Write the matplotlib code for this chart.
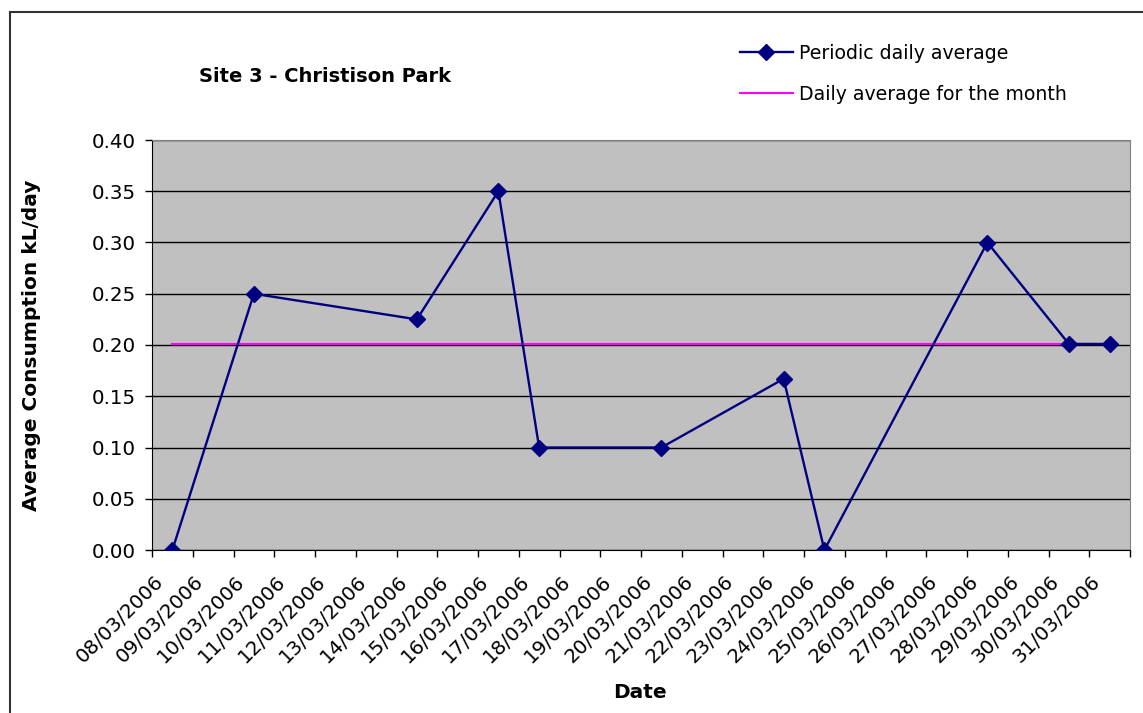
'''
Site 3 - Christison Park の平均消費量グラフ
'''

import matplotlib
matplotlib.use('Agg')
import matplotlib.pyplot as plt
import matplotlib.transforms as mtrans
from matplotlib.patches import Rectangle
import numpy as np

dates = ['08/03/2006', '09/03/2006', '10/03/2006', '11/03/2006', '12/03/2006',
         '13/03/2006', '14/03/2006', '15/03/2006', '16/03/2006', '17/03/2006',
         '18/03/2006', '19/03/2006', '20/03/2006', '21/03/2006', '22/03/2006',
         '23/03/2006', '24/03/2006', '25/03/2006', '26/03/2006', '27/03/2006',
         '28/03/2006', '29/03/2006', '30/03/2006', '31/03/2006']

# 読み取りできた日だけ値がある（残りは欠測）
periodic = [0.0, None, 0.25, None, None, None, 0.225, None, 0.35, 0.10,
            None, None, 0.10, None, None, 0.167, 0.0, None, None, None,
            0.30, None, 0.201, 0.201]
month_avg = [0.201] * 24

plt.rcParams['font.family'] = ['DejaVu Sans']

fig = plt.figure(figsize=(11.43, 7.13), dpi=100)
ax = fig.add_axes([152/1143, 1-550/713, (1130-152)/1143, (550-140)/713])

# 外枠
fig.patches.append(Rectangle((10/1143, -0.1), 1.2, 1-12/713+0.1, transform=fig.transFigure,
                             fill=False, edgecolor='#333333', linewidth=1.5))

x = np.arange(len(dates))
px = [i for i, v in enumerate(periodic) if v is not None]
py = [v for v in periodic if v is not None]

ax.set_facecolor('#C0C0C0')
ax.plot(x, month_avg, color='#FF00FF', linewidth=1.5, label='Daily average for the month', zorder=3)
ax.plot(px, py, color='#000080', linewidth=1.7, marker='D', markersize=8.5,
        label='Periodic daily average', zorder=4)

ax.set_xlim(-0.5, len(dates)-0.5)
ax.set_ylim(0, 0.4)
ax.set_yticks(np.arange(0, 0.401, 0.05))
ax.set_yticklabels(['%.2f' % v for v in np.arange(0, 0.401, 0.05)], fontsize=14.3)
ax.yaxis.grid(True, color='black', linewidth=1)
ax.set_axisbelow(True)

ax.set_xticks(np.arange(-0.5, len(dates), 1.0))
ax.set_xticklabels([])
ax.set_xticks(x, minor=True)
ax.set_xticklabels(dates, minor=True, rotation=45, ha='right', va='top',
                   rotation_mode='anchor', fontsize=14.3)
ax.tick_params(axis='x', which='minor', length=0, pad=0)
ax.tick_params(axis='both', which='major', length=5, width=1, color='black')
ax.tick_params(axis='y', which='major', pad=6.5)

off = mtrans.ScaledTranslation(-0.19, -0.22, fig.dpi_scale_trans)
for lab in ax.get_xticklabels(minor=True):
    lab.set_transform(lab.get_transform() + off)

for s in ['top', 'right']:
    ax.spines[s].set_color('#808080')
for s in ['left', 'bottom']:
    ax.spines[s].set_color('black')

ax.set_ylabel('Average Consumption kL/day', fontsize=14.5, fontweight='bold')
ax.yaxis.set_label_coords(-(152-32)/(1130-152), 0.5)
ax.set_xlabel('Date', fontsize=14.5, fontweight='bold')
ax.xaxis.set_label_coords((640-152)/(1130-152), -(693-550)/410)
ax.xaxis.label.set_va('center')
ax.yaxis.label.set_va('center')

fig.text(325/1143, 1-76/713, 'Site 3 - Christison Park', fontsize=14, fontweight='bold',
         ha='center', va='center')

h, l = ax.get_legend_handles_labels()
fig.legend(h[::-1], l[::-1], loc='upper left', bbox_to_anchor=(740/1143, 1-44/713),
           frameon=False, fontsize=13.6, handlelength=2.8, handletextpad=0.3,
           labelspacing=1.15, borderpad=0, borderaxespad=0)

plt.savefig('out.png')
